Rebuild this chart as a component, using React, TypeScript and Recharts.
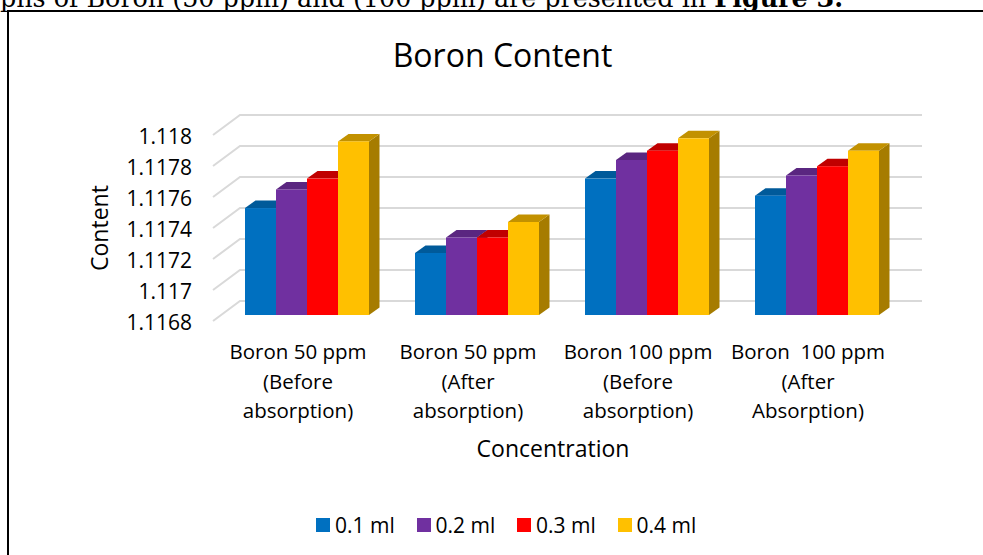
import { BarChart, Bar, XAxis, YAxis, CartesianGrid, Legend } from "recharts";

const categories = [
  ["Boron 50 ppm", "(Before", "absorption)"],
  ["Boron 50 ppm", "(After", "absorption)"],
  ["Boron 100 ppm", "(Before", "absorption)"],
  ["Boron  100 ppm", "(After", "Absorption)"],
];
const ml01 = [1.11749, 1.1172, 1.11768, 1.11757];
const ml02 = [1.11761, 1.1173, 1.1178, 1.1177];
const ml03 = [1.11768, 1.1173, 1.11786, 1.11776];
const ml04 = [1.11792, 1.1174, 1.11794, 1.11786];
const yTicks = [1.1168, 1.117, 1.1172, 1.1174, 1.1176, 1.1178, 1.118];

const data = categories.map((c, i) => ({
  name: c.join("|"),
  a: ml01[i],
  b: ml02[i],
  c: ml03[i],
  d: ml04[i],
}));

const FONT = "'Open Sans', sans-serif";
const DX = 10.5;
const DY = 7.5;

// fake 3D column: front face, top and right side
function Bar3D(props: any) {
  const { x, y, width, height, fill, topFill, sideFill } = props;
  const r = x + width;
  const b = y + height;
  return (
    <g>
      <polygon points={`${r},${y} ${r + DX},${y - DY} ${r + DX},${b - DY} ${r},${b}`} fill={sideFill} />
      <polygon points={`${x},${y} ${x + DX},${y - DY} ${r + DX},${y - DY} ${r},${y}`} fill={topFill} />
      <rect x={x} y={y} width={width} height={height} fill={fill} />
    </g>
  );
}

// gridlines run along the floor edge and then the back wall
function GridLine(props: any) {
  const { x1, x2, y1 } = props;
  return (
    <polyline
      points={`${x1 - 9},${y1 + 6} ${x1 + 18},${y1 - 14} ${x2 + 20},${y1 - 14}`}
      fill="none"
      stroke="#d9d9d9"
      strokeWidth={2}
    />
  );
}

function CategoryTick(props: any) {
  const { x, payload } = props;
  const lines = String(payload.value).split("|");
  return (
    <text textAnchor="middle" fontFamily={FONT} fontSize={20.5} fill="#000">
      {lines.map((l, i) => (
        <tspan key={i} x={x - 9} y={359 + i * 29.5} style={{ whiteSpace: "pre" }}>
          {l}
        </tspan>
      ))}
    </text>
  );
}

function ValueTick(props: any) {
  const { y, payload } = props;
  return (
    <text x={192} y={y + 14.5} textAnchor="end" fontFamily={FONT} fontSize={21} fill="#000">
      {String(payload.value)}
    </text>
  );
}

function LegendRow(props: any) {
  return (
    <div style={{ display: "flex", fontFamily: FONT, fontSize: 21, lineHeight: "28px", color: "#000" }}>
      {props.payload.map((p: any) => (
        <div key={p.value} style={{ display: "flex", alignItems: "center", width: 100.5 }}>
          <span style={{ width: 14, height: 14, background: p.color, marginRight: 5 }} />
          <span>{p.value}</span>
        </div>
      ))}
    </div>
  );
}

export default function App() {
  return (
    <div style={{ position: "absolute", left: 0, top: 0, width: 983, height: 555, overflow: "hidden", background: "#fff" }}>
      <div
        style={{
          position: "absolute",
          left: 0,
          top: -14,
          whiteSpace: "nowrap",
          fontFamily: "'DejaVu Serif', serif",
          fontSize: 25.4,
          lineHeight: "24px",
          color: "#000",
        }}
      >
        phs of Boron (50 ppm) and (100 ppm) are presented in <b>Figure 3.</b>
      </div>
      <div style={{ position: "absolute", left: 7, top: 10, width: 976, height: 545, borderLeft: "2px solid #000", borderTop: "2px solid #000" }} />
      <div
        style={{
          position: "absolute",
          left: 0,
          width: 1005,
          top: 33,
          textAlign: "center",
          fontFamily: FONT,
          fontSize: 32,
          lineHeight: "44px",
          color: "#000",
        }}
      >
        Boron Content
      </div>
      <div style={{ position: "absolute", left: 0, top: 0 }}>
        <BarChart
          width={983}
          height={555}
          data={data}
          margin={{ top: 129, right: 81, bottom: 122, left: 162 }}
          barGap={0}
          barCategoryGap={23}
        >
          <CartesianGrid vertical={false} horizontal={(p: any) => <GridLine key={p.key} {...p} />} />
          <XAxis
            dataKey="name"
            height={90}
            axisLine={false}
            tickLine={false}
            interval={0}
            tick={<CategoryTick />}
            label={{ value: "Concentration", position: "insideBottom", fontFamily: FONT, fontSize: 23, fill: "#000", dx: -9, dy: 57 }}
          />
          <YAxis
            width={60}
            domain={[1.1168, 1.118]}
            ticks={yTicks}
            allowDataOverflow
            axisLine={false}
            tickLine={false}
            tick={<ValueTick />}
            label={{ value: "Content", angle: -90, position: "insideLeft", fontFamily: FONT, fontSize: 23, fill: "#000", dx: -67, dy: 49 }}
          />
          <Legend
            content={<LegendRow />}
            height={0}
            wrapperStyle={{ position: "absolute", left: 316, top: 511, width: 420 }}
          />
          <Bar dataKey="a" name="0.1 ml" fill="#0070C0" isAnimationActive={false} shape={<Bar3D topFill="#005a9a" sideFill="#00487c" />} />
          <Bar dataKey="b" name="0.2 ml" fill="#7030A0" isAnimationActive={false} shape={<Bar3D topFill="#5a2680" sideFill="#481f67" />} />
          <Bar dataKey="c" name="0.3 ml" fill="#FF0000" isAnimationActive={false} shape={<Bar3D topFill="#c00000" sideFill="#a00000" />} />
          <Bar dataKey="d" name="0.4 ml" fill="#FFC000" isAnimationActive={false} shape={<Bar3D topFill="#c29100" sideFill="#a67c00" />} />
        </BarChart>
      </div>
    </div>
  );
}
